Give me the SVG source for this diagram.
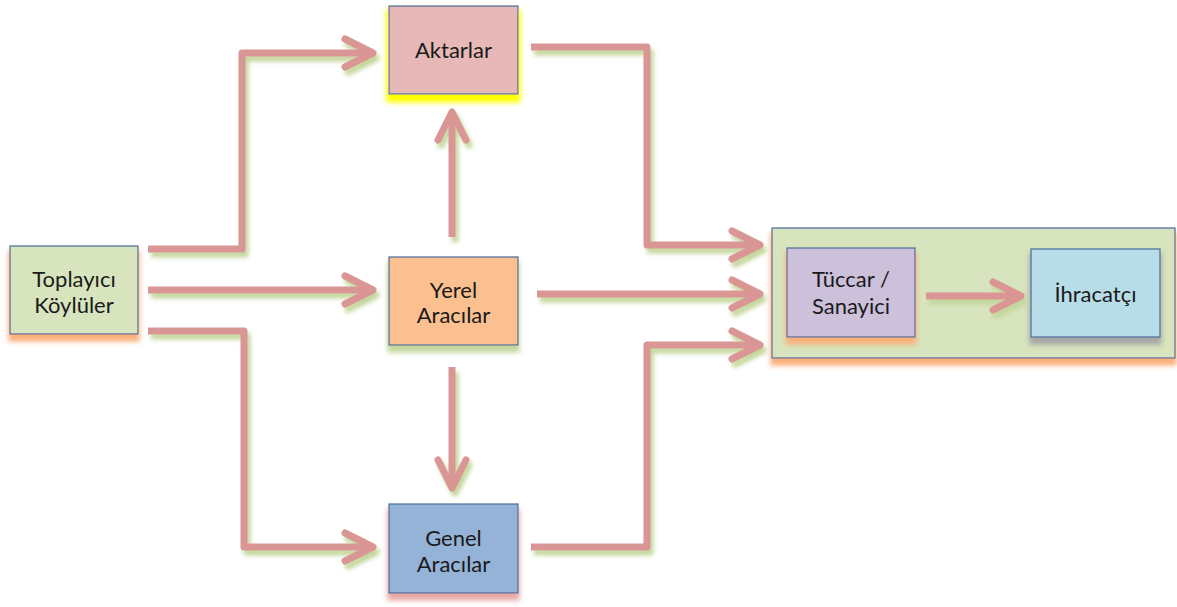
<svg xmlns="http://www.w3.org/2000/svg" width="1177" height="607" viewBox="0 0 1177 607">
<style>
.box{stroke:#4A6A9A;stroke-width:1.2}
.lbl{font-family:Lato,"Liberation Sans",sans-serif;font-size:22px;fill:#1a1a1a;text-anchor:middle}
.conn{fill:none;stroke:#D99694;stroke-width:7;stroke-linejoin:round;stroke-linecap:butt}
</style>
<defs>
<filter id="shY" x="-20%" y="-20%" width="140%" height="150%">
<feMorphology in="SourceAlpha" operator="dilate" radius="2" result="d"/>
<feOffset in="d" dx="0" dy="6" result="o"/>
<feGaussianBlur in="o" stdDeviation="2.5" result="b"/>
<feFlood flood-color="#FFFF00"/>
<feComposite in2="b" operator="in" result="s"/>
<feMerge><feMergeNode in="s"/><feMergeNode in="SourceGraphic"/></feMerge>
</filter>
<filter id="shO" x="-20%" y="-20%" width="140%" height="150%">
<feMorphology in="SourceAlpha" operator="dilate" radius="1" result="d"/>
<feOffset in="d" dx="0" dy="6" result="o"/>
<feGaussianBlur in="o" stdDeviation="2.5" result="b"/>
<feFlood flood-color="#F9B07A"/>
<feComposite in2="b" operator="in" result="s"/>
<feMerge><feMergeNode in="s"/><feMergeNode in="SourceGraphic"/></feMerge>
</filter>
<filter id="shG" x="-20%" y="-20%" width="140%" height="150%">
<feMorphology in="SourceAlpha" operator="dilate" radius="1" result="d"/>
<feOffset in="d" dx="0" dy="6" result="o"/>
<feGaussianBlur in="o" stdDeviation="2.5" result="b"/>
<feFlood flood-color="#C3D69B"/>
<feComposite in2="b" operator="in" result="s"/>
<feMerge><feMergeNode in="s"/><feMergeNode in="SourceGraphic"/></feMerge>
</filter>
<filter id="shP" x="-20%" y="-20%" width="140%" height="150%">
<feMorphology in="SourceAlpha" operator="dilate" radius="1" result="d"/>
<feOffset in="d" dx="0" dy="6" result="o"/>
<feGaussianBlur in="o" stdDeviation="2.5" result="b"/>
<feFlood flood-color="#E6A9A7"/>
<feComposite in2="b" operator="in" result="s"/>
<feMerge><feMergeNode in="s"/><feMergeNode in="SourceGraphic"/></feMerge>
</filter>
<filter id="shK" x="-20%" y="-20%" width="140%" height="150%">
<feMorphology in="SourceAlpha" operator="dilate" radius="1" result="d"/>
<feOffset in="d" dx="0" dy="6" result="o"/>
<feGaussianBlur in="o" stdDeviation="2.5" result="b"/>
<feFlood flood-color="#A6A6A6"/>
<feComposite in2="b" operator="in" result="s"/>
<feMerge><feMergeNode in="s"/><feMergeNode in="SourceGraphic"/></feMerge>
</filter>
<filter id="shA" x="-10%" y="-10%" width="130%" height="130%">
<feOffset in="SourceAlpha" dx="3" dy="5" result="o"/>
<feGaussianBlur in="o" stdDeviation="2" result="b"/>
<feFlood flood-color="#C3D69B"/>
<feComposite in2="b" operator="in" result="s"/>
<feMerge><feMergeNode in="s"/><feMergeNode in="SourceGraphic"/></feMerge>
</filter>
<marker id="chev" markerUnits="userSpaceOnUse" markerWidth="40" markerHeight="40" refX="0" refY="0" orient="auto" overflow="visible">
<path d="M-28,-14 L0,0 L-28,14" fill="none" stroke="#D99694" stroke-width="7" stroke-linecap="round" stroke-linejoin="round"/>
</marker>
</defs>
<rect width="1177" height="607" fill="#ffffff"/>

<g id="container" filter="url(#shO)">
<rect class="box" x="772" y="228" width="403" height="130" fill="#D7E4BD"/>
</g>

<g id="aktarlar">
<rect class="box" x="389" y="6" width="129" height="88" fill="#E6B8B7" filter="url(#shY)"/>
<text class="lbl" x="453.5" y="58">Aktarlar</text>
</g>

<g id="toplayici">
<rect class="box" x="10" y="246" width="128" height="88" fill="#D7E4BD" filter="url(#shO)"/>
<text class="lbl" x="74" y="287">Toplayıcı</text>
<text class="lbl" x="74" y="313">Köylüler</text>
</g>

<g id="yerel">
<rect class="box" x="389" y="257" width="129" height="88" fill="#FAC090" filter="url(#shG)"/>
<text class="lbl" x="453.5" y="298">Yerel</text>
<text class="lbl" x="453.5" y="323">Aracılar</text>
</g>

<g id="genel">
<rect class="box" x="389" y="504" width="129" height="89" fill="#95B3D7" filter="url(#shP)"/>
<text class="lbl" x="453.5" y="546">Genel</text>
<text class="lbl" x="453.5" y="572">Aracılar</text>
</g>

<g id="tuccar">
<rect class="box" x="787" y="248" width="128" height="89" fill="#CCC0DA" filter="url(#shO)"/>
<text class="lbl" x="851" y="287">Tüccar /</text>
<text class="lbl" x="851" y="314">Sanayici</text>
</g>

<g id="ihracatci">
<rect class="box" x="1031" y="249" width="129" height="88" fill="#B7DEE8" filter="url(#shK)"/>
<text class="lbl" x="1095.5" y="302">İhracatçı</text>
</g>

<g id="connectors" filter="url(#shA)">
<path class="conn" d="M148,249 H242 V53 H373" marker-end="url(#chev)"/>
<path class="conn" d="M148,290 H373" marker-end="url(#chev)"/>
<path class="conn" d="M148,331 H244 V547 H373" marker-end="url(#chev)"/>
<path class="conn" d="M452,237 V112" marker-end="url(#chev)"/>
<path class="conn" d="M452,367 V488" marker-end="url(#chev)"/>
<path class="conn" d="M531,47 H647 V245 H760" marker-end="url(#chev)"/>
<path class="conn" d="M537,294 H760" marker-end="url(#chev)"/>
<path class="conn" d="M531,547 H647 V345 H760" marker-end="url(#chev)"/>
<path class="conn" d="M926,296 H1021" marker-end="url(#chev)"/>
</g>
</svg>
